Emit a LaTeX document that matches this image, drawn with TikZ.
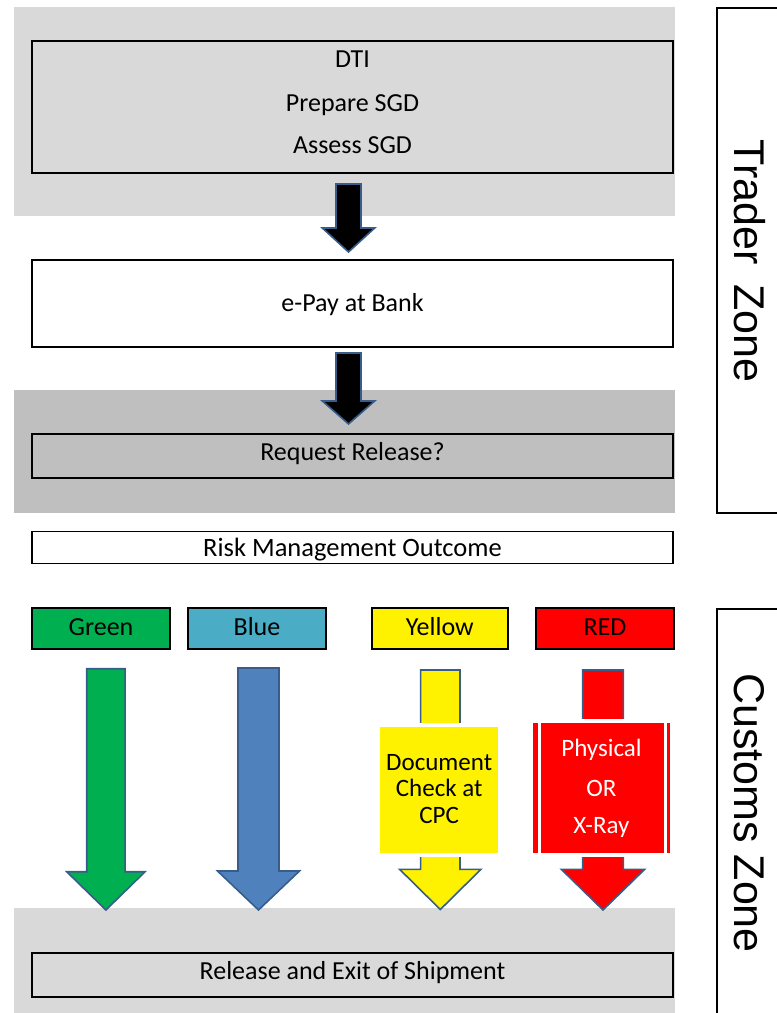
\documentclass[tikz,border=0pt]{standalone}
\usepackage{fontspec}
\setmainfont{Carlito}
\newfontfamily\zonefont{Liberation Sans}
\definecolor{panellight}{HTML}{D9D9D9}
\definecolor{paneldark}{HTML}{BFBFBF}
\definecolor{chgreen}{HTML}{00B050}
\definecolor{chblue}{HTML}{4BACC6}
\definecolor{arrowblue}{HTML}{4F81BD}
\definecolor{arrowedge}{HTML}{385D8A}
% block arrow: x, shaft top, head base, tip, half shaft, half head, fill
\newcommand{\blockarrow}[7]{%
\path[draw=arrowedge,line width=1.6pt,line join=miter,fill=#7]
  (#1-#5,#2) -- (#1+#5,#2) -- (#1+#5,#3) -- (#1+#6,#3) -- (#1,#4)
  -- (#1-#6,#3) -- (#1-#5,#3) -- cycle;}
\begin{document}
\begin{tikzpicture}[x=1pt,y=-1pt,
  flowbox/.style={draw,line width=1.8pt,minimum width=641pt,inner sep=0pt},
  chbox/.style={draw,line width=1.8pt,minimum width=138pt,minimum height=41pt,inner sep=0pt},
  zonebox/.style={draw,line width=1.8pt,inner sep=0pt,anchor=north west},
  lbl/.style={inner sep=0pt,anchor=base,font=\fontsize{26pt}{30pt}\selectfont},
  zonelbl/.style={inner sep=0pt,rotate=-90,font=\zonefont\fontsize{43pt}{48pt}\selectfont}]
\useasboundingbox (0,0) rectangle (777,1013);

% trader zone
\fill[color=panellight] (14,7) rectangle (675,216);
\fill[color=paneldark] (14,390) rectangle (675,513);
\node[flowbox,fill=panellight,minimum height=132pt] (dti) at (352.5,106.7) {};
\node[lbl] (dtia) at (352.5,67) {DTI};
\node[lbl] (dtib) at (352.5,111.5) {Prepare SGD};
\node[lbl] (dtic) at (352.5,153.5) {Assess SGD};

\node[flowbox,fill=white,minimum height=86.7pt] (epay) at (352.5,303.3) {};
\node[lbl] (epaytxt) at (352.5,311.5) {e-Pay at Bank};

\node[flowbox,fill=paneldark,minimum height=44pt] (req) at (352.5,456) {};
\node[lbl] (reqtxt) at (352.5,460) {Request Release?};

\blockarrow{348.5}{184}{228}{252}{12.5}{26.2}{black}
\blockarrow{348.5}{353}{401}{424}{12.5}{26.2}{black}

\node[zonebox,minimum width=100pt,minimum height=505pt] (trader) at (716,7) {};
\node[zonelbl] (tradertxt) at (749.5,261) {Trader\hspace{0.45em}Zone};

% risk outcome
\node[flowbox,line width=1.4pt,fill=white,minimum height=31.6pt] (risk) at (352.5,547.5) {};
\node[lbl,font=\fontsize{26.5pt}{30pt}\selectfont] (risktxt) at (352.5,556.7) {Risk Management Outcome};

% customs zone
\node[chbox,fill=chgreen] (green) at (101,628.5) {};
\node[lbl] (greentxt) at (101,635) {Green};
\node[chbox,fill=chblue] (blue) at (257,628.5) {};
\node[lbl] (bluetxt) at (257,635) {Blue};
\node[chbox,fill=yellow,minimum width=136.3pt] (yellow) at (439.8,628.5) {};
\node[lbl] (yellowtxt) at (439.8,635) {Yellow};
\node[chbox,fill=red] (redbox) at (605,628.5) {};
\node[lbl] (redtxt) at (605,635) {RED};

\fill[color=panellight] (14,908) rectangle (675,1020);

\blockarrow{105.9}{668.7}{871.7}{910}{19.2}{39.2}{chgreen}
\blockarrow{258.5}{668}{871}{910}{20.5}{41}{arrowblue}
\blockarrow{440.3}{670}{869.3}{909.5}{19.7}{40.7}{yellow}
\blockarrow{603}{670}{869.3}{910}{20.3}{41.7}{red}

\node[draw=white,line width=4pt,fill=yellow,minimum width=122.3pt,minimum height=130.6pt,inner sep=0pt] (doc) at (439.2,790) {};
\node[lbl,font=\fontsize{25pt}{30pt}\selectfont] (doca) at (439.2,770) {Document};
\node[lbl,font=\fontsize{25pt}{30pt}\selectfont] (docb) at (439.2,796) {Check at};
\node[lbl,font=\fontsize{25pt}{30pt}\selectfont] (docc) at (439.2,823) {CPC};

\node[draw=white,line width=4pt,fill=red,minimum width=140.7pt,minimum height=134pt,inner sep=0pt] (xray) at (601.7,788.3) {};
\draw[white,line width=3pt] ([xshift=10pt]xray.north west) -- ([xshift=10pt]xray.south west);
\draw[white,line width=3pt] ([xshift=-9pt]xray.north east) -- ([xshift=-9pt]xray.south east);
\node[lbl,white,font=\fontsize{25pt}{30pt}\selectfont] (xraya) at (601.5,756.7) {Physical};
\node[lbl,white,font=\fontsize{25pt}{30pt}\selectfont] (xrayb) at (601.5,796) {OR};
\node[lbl,white,font=\fontsize{25pt}{30pt}\selectfont] (xrayc) at (601.5,833) {X-Ray};

\node[flowbox,fill=panellight,minimum height=44.3pt] (exit) at (352.5,974.8) {};
\node[lbl] (exittxt) at (352.5,979) {Release and Exit of Shipment};

\node[zonebox,minimum width=100pt,minimum height=430pt] (customs) at (716,608) {};
\node[zonelbl] (customstxt) at (749.5,813) {Customs Zone};
\end{tikzpicture}
\end{document}
